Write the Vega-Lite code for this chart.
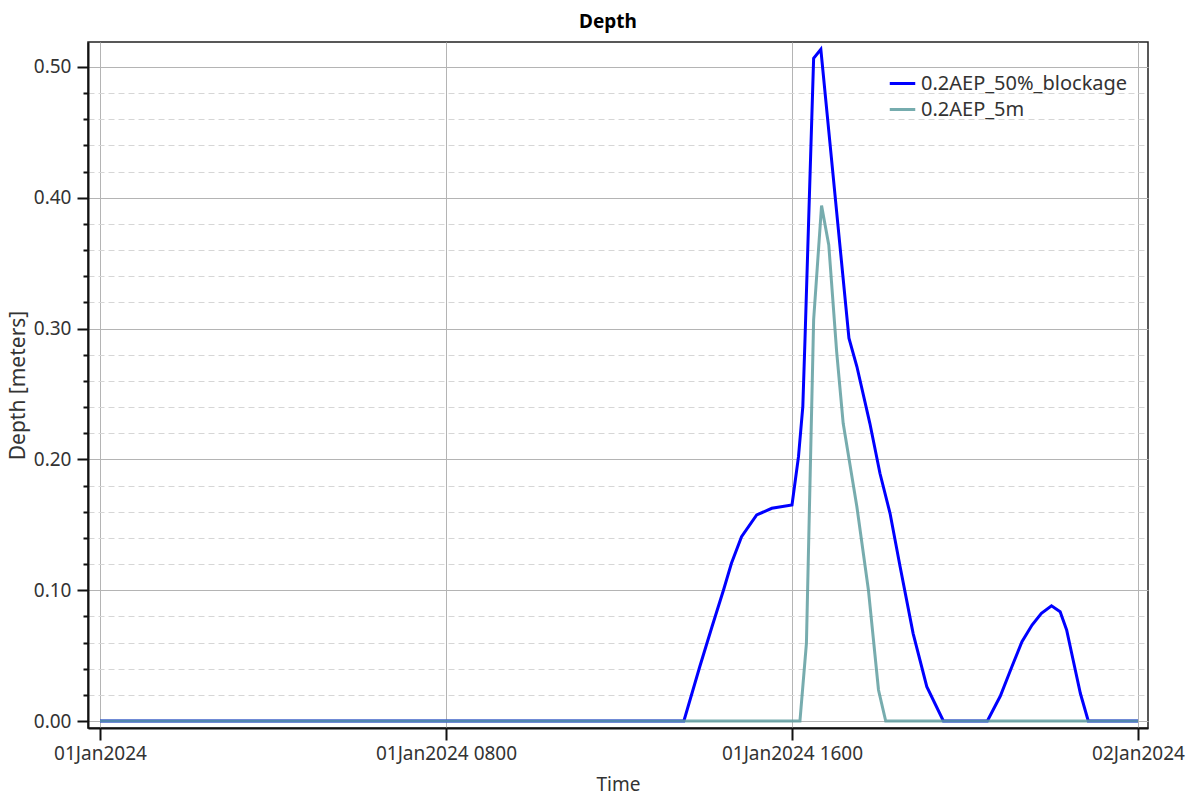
{
  "$schema": "https://vega.github.io/schema/vega-lite/v6.json",
  "width": 1060,
  "height": 686,
  "autosize": {"type": "none"},
  "padding": {"left": 88, "top": 42, "right": 53, "bottom": 75},
  "background": "white",
  "title": {
    "text": "Depth",
    "font": "Noto Sans",
    "fontSize": 19,
    "fontWeight": "bold",
    "color": "#000000",
    "anchor": "middle",
    "dx": -10,
    "offset": 10
  },
  "config": {
    "font": "Noto Sans",
    "view": {"stroke": "#222222", "strokeWidth": 1.5},
    "axis": {
      "labelFont": "Noto Sans",
      "labelFontSize": 19,
      "labelColor": "#333333",
      "titleFont": "Noto Sans",
      "titleFontSize": 19,
      "titleFontWeight": "normal",
      "titleColor": "#333333",
      "domainColor": "#111111",
      "domainWidth": 2,
      "tickColor": "#111111",
      "tickWidth": 2
    }
  },
  "data": {
    "values": [
      {"time": "2024-01-01T00:00:00Z", "depth": 0, "series": "0.2AEP_50%_blockage"},
      {"time": "2024-01-01T13:30:00Z", "depth": 0, "series": "0.2AEP_50%_blockage"},
      {"time": "2024-01-01T13:52:00Z", "depth": 0.0415, "series": "0.2AEP_50%_blockage"},
      {"time": "2024-01-01T14:09:00Z", "depth": 0.0721, "series": "0.2AEP_50%_blockage"},
      {"time": "2024-01-01T14:25:00Z", "depth": 0.1002, "series": "0.2AEP_50%_blockage"},
      {"time": "2024-01-01T14:36:00Z", "depth": 0.1206, "series": "0.2AEP_50%_blockage"},
      {"time": "2024-01-01T14:50:00Z", "depth": 0.1409, "series": "0.2AEP_50%_blockage"},
      {"time": "2024-01-01T15:11:00Z", "depth": 0.1575, "series": "0.2AEP_50%_blockage"},
      {"time": "2024-01-01T15:32:00Z", "depth": 0.1626, "series": "0.2AEP_50%_blockage"},
      {"time": "2024-01-01T16:00:00Z", "depth": 0.1651, "series": "0.2AEP_50%_blockage"},
      {"time": "2024-01-01T16:09:00Z", "depth": 0.2021, "series": "0.2AEP_50%_blockage"},
      {"time": "2024-01-01T16:15:00Z", "depth": 0.2403, "series": "0.2AEP_50%_blockage"},
      {"time": "2024-01-01T16:18:00Z", "depth": 0.2913, "series": "0.2AEP_50%_blockage"},
      {"time": "2024-01-01T16:30:00Z", "depth": 0.5066, "series": "0.2AEP_50%_blockage"},
      {"time": "2024-01-01T16:40:00Z", "depth": 0.5135, "series": "0.2AEP_50%_blockage"},
      {"time": "2024-01-01T17:19:00Z", "depth": 0.2926, "series": "0.2AEP_50%_blockage"},
      {"time": "2024-01-01T17:30:00Z", "depth": 0.271, "series": "0.2AEP_50%_blockage"},
      {"time": "2024-01-01T17:48:00Z", "depth": 0.2276, "series": "0.2AEP_50%_blockage"},
      {"time": "2024-01-01T18:02:00Z", "depth": 0.1894, "series": "0.2AEP_50%_blockage"},
      {"time": "2024-01-01T18:16:00Z", "depth": 0.1588, "series": "0.2AEP_50%_blockage"},
      {"time": "2024-01-01T18:30:00Z", "depth": 0.118, "series": "0.2AEP_50%_blockage"},
      {"time": "2024-01-01T18:48:00Z", "depth": 0.067, "series": "0.2AEP_50%_blockage"},
      {"time": "2024-01-01T19:07:00Z", "depth": 0.0262, "series": "0.2AEP_50%_blockage"},
      {"time": "2024-01-01T19:30:00Z", "depth": 0, "series": "0.2AEP_50%_blockage"},
      {"time": "2024-01-01T20:31:00Z", "depth": 0, "series": "0.2AEP_50%_blockage"},
      {"time": "2024-01-01T20:49:00Z", "depth": 0.0191, "series": "0.2AEP_50%_blockage"},
      {"time": "2024-01-01T21:05:00Z", "depth": 0.0415, "series": "0.2AEP_50%_blockage"},
      {"time": "2024-01-01T21:19:00Z", "depth": 0.0606, "series": "0.2AEP_50%_blockage"},
      {"time": "2024-01-01T21:33:00Z", "depth": 0.0734, "series": "0.2AEP_50%_blockage"},
      {"time": "2024-01-01T21:46:00Z", "depth": 0.0823, "series": "0.2AEP_50%_blockage"},
      {"time": "2024-01-01T22:00:00Z", "depth": 0.0881, "series": "0.2AEP_50%_blockage"},
      {"time": "2024-01-01T22:12:00Z", "depth": 0.0836, "series": "0.2AEP_50%_blockage"},
      {"time": "2024-01-01T22:21:00Z", "depth": 0.0696, "series": "0.2AEP_50%_blockage"},
      {"time": "2024-01-01T22:30:00Z", "depth": 0.0466, "series": "0.2AEP_50%_blockage"},
      {"time": "2024-01-01T22:40:00Z", "depth": 0.0212, "series": "0.2AEP_50%_blockage"},
      {"time": "2024-01-01T22:51:00Z", "depth": 0, "series": "0.2AEP_50%_blockage"},
      {"time": "2024-01-02T00:00:00Z", "depth": 0, "series": "0.2AEP_50%_blockage"},
      {"time": "2024-01-01T00:00:00Z", "depth": 0, "series": "0.2AEP_5m"},
      {"time": "2024-01-01T16:11:00Z", "depth": 0, "series": "0.2AEP_5m"},
      {"time": "2024-01-01T16:20:00Z", "depth": 0.0594, "series": "0.2AEP_5m"},
      {"time": "2024-01-01T16:30:00Z", "depth": 0.3066, "series": "0.2AEP_5m"},
      {"time": "2024-01-01T16:41:00Z", "depth": 0.394, "series": "0.2AEP_5m"},
      {"time": "2024-01-01T16:51:00Z", "depth": 0.364, "series": "0.2AEP_5m"},
      {"time": "2024-01-01T17:02:00Z", "depth": 0.282, "series": "0.2AEP_5m"},
      {"time": "2024-01-01T17:11:00Z", "depth": 0.2276, "series": "0.2AEP_5m"},
      {"time": "2024-01-01T17:30:00Z", "depth": 0.1638, "series": "0.2AEP_5m"},
      {"time": "2024-01-01T17:46:00Z", "depth": 0.1002, "series": "0.2AEP_5m"},
      {"time": "2024-01-01T18:00:00Z", "depth": 0.0237, "series": "0.2AEP_5m"},
      {"time": "2024-01-01T18:10:00Z", "depth": 0, "series": "0.2AEP_5m"},
      {"time": "2024-01-02T00:00:00Z", "depth": 0, "series": "0.2AEP_5m"}
    ]
  },
  "mark": {"type": "line", "strokeWidth": 3, "clip": true},
  "encoding": {
    "x": {
      "field": "time",
      "type": "temporal",
      "title": "Time",
      "scale": {
        "type": "utc",
        "domain": [
          {"year": 2023, "month": 12, "date": 31, "hours": 23, "minutes": 43, "seconds": 21, "utc": true},
          {"year": 2024, "month": 1, "date": 2, "hours": 0, "minutes": 13, "seconds": 52, "utc": true}
        ],
        "nice": false
      },
      "axis": {
        "values": [
          {"year": 2024, "month": 1, "date": 1, "hours": 0, "utc": true},
          {"year": 2024, "month": 1, "date": 1, "hours": 8, "utc": true},
          {"year": 2024, "month": 1, "date": 1, "hours": 16, "utc": true},
          {"year": 2024, "month": 1, "date": 2, "hours": 0, "utc": true}
        ],
        "labelExpr": "utcFormat(datum.value, utchours(datum.value) == 0 ? '%d%b%Y' : '%d%b%Y %H%M')",
        "labelFlush": false,
        "labelOverlap": false,
        "tickSize": 12,
        "labelPadding": 4,
        "titlePadding": 12,
        "grid": true,
        "gridColor": "#b4b4b4",
        "gridWidth": 1
      }
    },
    "y": {
      "field": "depth",
      "type": "quantitative",
      "title": "Depth [meters]",
      "scale": {"domain": [-0.00535, 0.5191], "nice": false, "zero": false},
      "axis": {
        "values": [0, 0.02, 0.04, 0.06, 0.08, 0.1, 0.12, 0.14, 0.16, 0.18, 0.2, 0.22, 0.24, 0.26, 0.28, 0.3, 0.32, 0.34, 0.36, 0.38, 0.4, 0.42, 0.44, 0.46, 0.48, 0.5],
        "labelExpr": "round(datum.value * 50) % 5 == 0 ? format(datum.value, '.2f') : ''",
        "labelOverlap": false,
        "labelPadding": 6,
        "titlePadding": 5,
        "titleFontSize": 21,
        "tickSize": {"condition": {"test": "round(datum.value * 50) % 5 == 0", "value": 11}, "value": 5},
        "grid": true,
        "gridColor": {"condition": {"test": "round(datum.value * 50) % 5 == 0", "value": "#b4b4b4"}, "value": "#d6d6d6"},
        "gridDash": {"condition": {"test": "round(datum.value * 50) % 5 == 0", "value": []}, "value": [6, 4]},
        "gridWidth": 1
      }
    },
    "color": {
      "field": "series",
      "type": "nominal",
      "scale": {
        "domain": ["0.2AEP_50%_blockage", "0.2AEP_5m"],
        "range": ["#0000ff", "#5f9ea0"]
      },
      "legend": {
        "title": null,
        "orient": "none",
        "legendX": 800,
        "legendY": 27,
        "symbolType": "stroke",
        "symbolSize": 650,
        "symbolStrokeWidth": 3,
        "labelFont": "Noto Sans",
        "labelFontSize": 20,
        "labelLimit": 400,
        "labelColor": "#333333",
        "labelOffset": 4,
        "rowPadding": 1
      }
    },
    "opacity": {
      "field": "series",
      "type": "nominal",
      "scale": {"domain": ["0.2AEP_50%_blockage", "0.2AEP_5m"], "range": [1, 0.85]},
      "legend": null
    }
  }
}
